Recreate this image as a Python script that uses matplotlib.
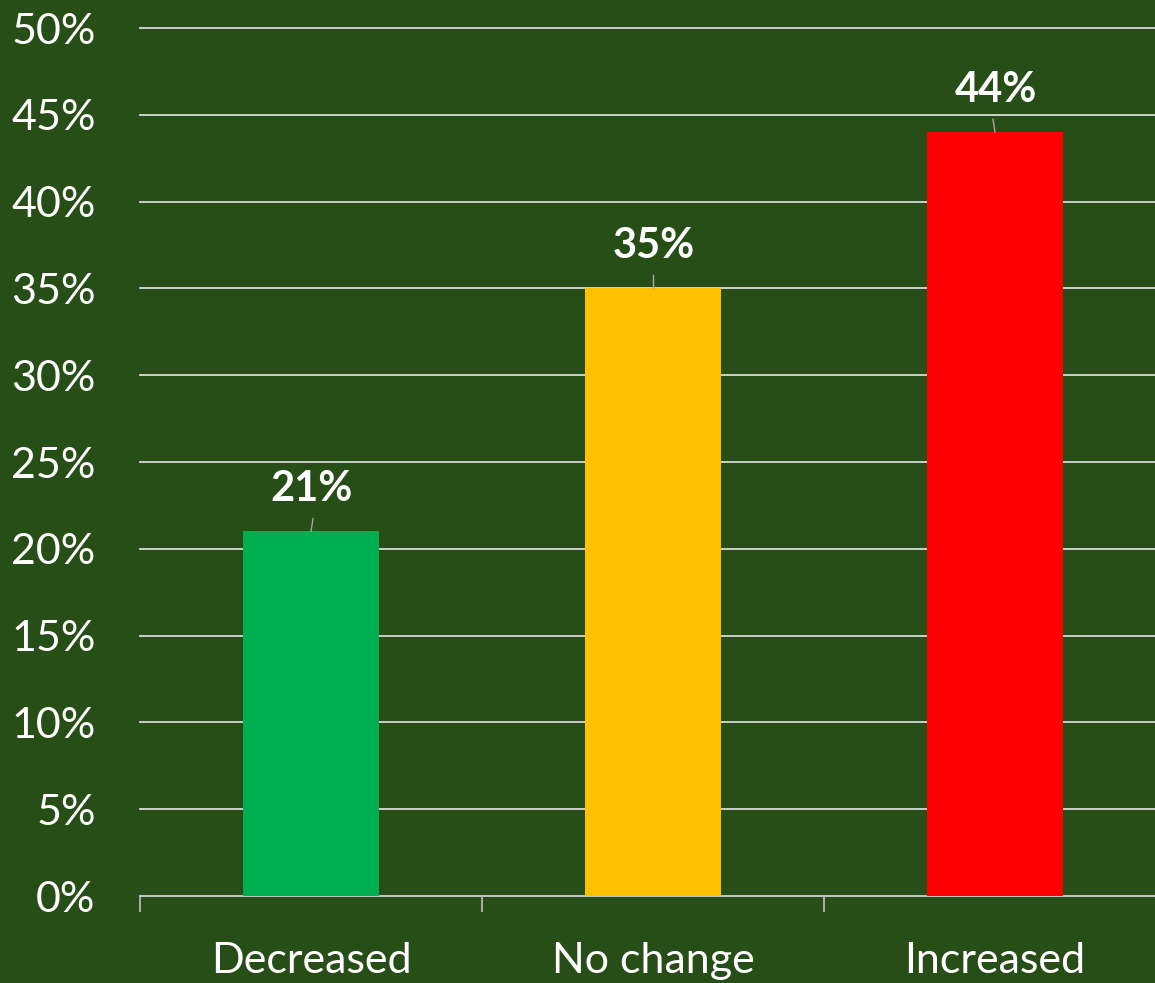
import matplotlib
matplotlib.use("Agg")
import matplotlib.pyplot as plt
from matplotlib.ticker import PercentFormatter

categories = ["Decreased", "No change", "Increased"]
values = [21, 35, 44]
bar_colors = ["#00B050", "#FFC000", "#FF0000"]
yticks = [0, 5, 10, 15, 20, 25, 30, 35, 40, 45, 50]

bg = "#284E17"
plt.rcParams['font.family'] = ['Lato', 'DejaVu Sans']

fig = plt.figure(figsize=(11.55, 9.83), dpi=100, facecolor=bg)
ax = fig.add_axes([140/1155, 1-896/983, 1026/1155, (896-28)/983])
ax.set_facecolor(bg)

x = list(range(len(categories)))
ax.bar(x, values, width=0.4, color=bar_colors, zorder=3)
ax.set_xlim(-0.5, 2.5)
ax.set_ylim(0, 50)
ax.set_yticks(yticks)
ax.yaxis.set_major_formatter(PercentFormatter(decimals=0))
ax.grid(axis='y', color='#D9D9D9', linewidth=1.3, zorder=1)
for ln in ax.get_ygridlines():
    ln.set_clip_on(False)
ax.tick_params(axis='y', length=0, pad=32, labelsize=31, labelcolor='white')

ax.set_xticks(x)
ax.set_xticklabels(categories)
ax.set_xticks([-0.5, 0.5, 1.5, 2.5], minor=True)
ax.tick_params(axis='x', which='major', length=0, pad=33, labelsize=31, labelcolor='white')
ax.tick_params(axis='x', which='minor', length=11.5, width=1.2, color='#BFBFBF', direction='out')

for s in ['top', 'right', 'left']:
    ax.spines[s].set_visible(False)
ax.spines['bottom'].set_color('#BFBFBF')
ax.spines['bottom'].set_linewidth(1.3)

for xi, v in zip(x, values):
    ax.annotate(f"{v}%", xy=(xi, v), xytext=(xi + 0.003, v + 2.45),
                ha='center', va='center', color='white', fontsize=30, fontweight='bold',
                zorder=4)
    ax.plot([xi + 0.006 * (1 if xi == 0 else -1 if xi == 2 else 0), xi], [v + 0.75, v],
            color='#A6A6A6', linewidth=1.0, zorder=4)

fig.savefig("out.png", dpi=100, facecolor=bg)
